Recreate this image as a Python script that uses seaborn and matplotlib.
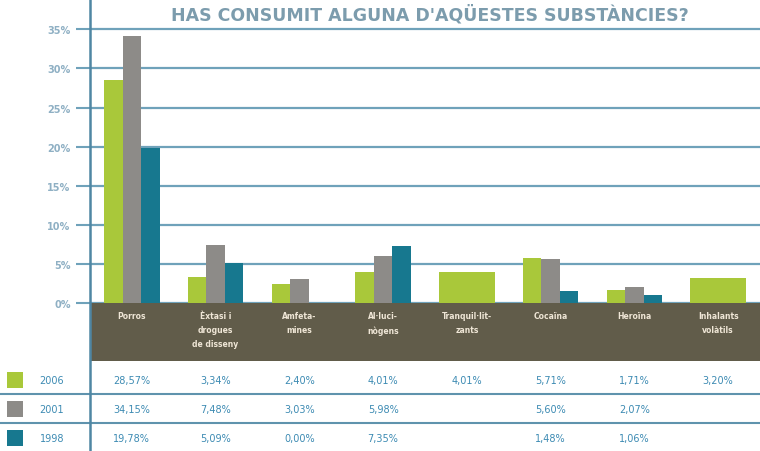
import pandas as pd
import seaborn as sns
import matplotlib.pyplot as plt
from matplotlib.patches import Rectangle
from matplotlib.lines import Line2D

sns.set_style("white")
plt.rcParams["font.family"] = ["DejaVu Sans"]

# -------------------------------
# DATA
# -------------------------------
categories = ["Porros", "Èxtasi i\ndrogues\nde disseny", "Amfeta-\nmines", "Al·luci-\nnògens",
              "Tranquil·lit-\nzants", "Cocaïna", "Heroïna", "Inhalants\nvolàtils"]
years = ["2006", "2001", "1998"]
v2006 = [28.57, 3.34, 2.40, 4.01, 4.01, 5.71, 1.71, 3.20]
v2001 = [34.15, 7.48, 3.03, 5.98, None, 5.60, 2.07, None]
v1998 = [19.78, 5.09, 0.00, 7.35, None, 1.48, 1.06, None]
yticks = [0, 5, 10, 15, 20, 25, 30, 35]
colors = ["#a9c83a", "#8d8b88", "#17788f"]

title = "HAS CONSUMIT ALGUNA D'AQÜESTES SUBSTÀNCIES?"

rows = []
for yr, vals in zip(years, [v2006, v2001, v1998]):
    for c, v in zip(categories, vals):
        if v is not None:
            rows.append({"cat": c, "year": yr, "val": v})
df = pd.DataFrame(rows)

# categories with a single series are drawn as one wide bar
counts = df.groupby("cat")["year"].count()
single = counts[counts == 1].index
df_multi = df[~df["cat"].isin(single)]
df_single = df[df["cat"].isin(single)]

W, H = 760, 452
fig = plt.figure(figsize=(7.6, 4.52), dpi=100)
ax = fig.add_axes([90 / W, 1 - 304 / H, 670 / W, (304 - 10) / H])

sns.barplot(data=df_multi, x="cat", y="val", hue="year", hue_order=years, order=categories,
            palette=colors, width=0.66, legend=False, ax=ax, saturation=1, linewidth=0)
sns.barplot(data=df_single, x="cat", y="val", order=categories, color=colors[0],
            width=0.66, ax=ax, saturation=1, linewidth=0)

ax.set_xlim(-0.5, len(categories) - 0.5)
ax.set_ylim(0, 37.6)
ax.set_yticks(yticks)
ax.set_yticklabels([f"{t}%" for t in yticks], color="#8fb0c4", fontsize=7, fontweight="bold")
ax.set_xticks([])
ax.set_xlabel("")
ax.set_ylabel("")
ax.yaxis.grid(True, color="#6fa2ba", linewidth=1.6)
ax.set_axisbelow(True)
ax.tick_params(axis="y", length=10, color="#6fa2ba", width=1.5, left=True, pad=4)
for s in ["top", "right", "bottom", "left"]:
    ax.spines[s].set_visible(False)

fig.text(430 / W, 1 - 15 / H, title, ha="center", va="center", fontsize=12.5,
         fontweight="bold", color="#7c9cad")

# dark band with category labels
fig.patches.append(Rectangle((90 / W, 1 - 362 / H), 670 / W, 58 / H, transform=fig.transFigure,
                             facecolor="#615c4a", edgecolor="none", zorder=0))
for i, c in enumerate(categories):
    fx = (90 + (i + 0.5) * 670 / len(categories)) / W
    fig.text(fx, 1 - 312 / H, c, ha="center", va="top", fontsize=5.5, fontweight="bold",
             color="#efe6d6", linespacing=1.7)

# table with values
row_y = [381, 410, 439]
for yr, vals, col, ry in zip(years, [v2006, v2001, v1998], colors, row_y):
    fig.patches.append(Rectangle((7 / W, 1 - (ry + 8) / H), 16 / W, 16 / H,
                                 transform=fig.transFigure, facecolor=col, edgecolor="none"))
    fig.text(52 / W, 1 - ry / H, yr, ha="center", va="center", fontsize=7, color="#3d8bb3")
    for i, v in enumerate(vals):
        if v is None:
            continue
        fx = (90 + (i + 0.5) * 670 / len(categories)) / W
        fig.text(fx, 1 - ry / H, f"{v:.2f}%".replace(".", ","), ha="center", va="center",
                 fontsize=7, color="#3d8bb3")

for ly in [395, 424]:
    fig.lines.append(Line2D([0, 1], [1 - ly / H, 1 - ly / H], transform=fig.transFigure,
                            color="#5f93ad", linewidth=1.5))
fig.lines.append(Line2D([90 / W, 90 / W], [0, 1], transform=fig.transFigure,
                        color="#4f86a3", linewidth=1.8))

fig.savefig("out.png", dpi=100)
